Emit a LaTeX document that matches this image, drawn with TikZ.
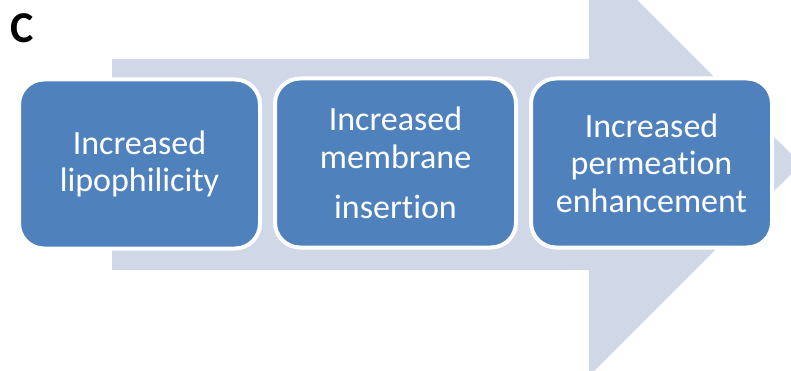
\documentclass[tikz,border=0pt]{standalone}
\usepackage{fontspec}
\setmainfont{Carlito}[Ligatures={NoCommon,NoRare}]
\definecolor{stepblue}{HTML}{4F81BD}
\definecolor{flowgray}{HTML}{D0D8E8}
% keep "t" and "i" as separate glyphs
\newcommand{\tisep}{\kern0pt }
\begin{document}
\begin{tikzpicture}[x=1pt,y=-1pt,
  stepbox/.style={draw=white, line width=4pt, fill=stepblue, rounded corners=25pt,
    minimum width=241pt, minimum height=169pt, inner sep=0pt, text=white,
    align=center, font=\fontsize{34}{37.5}\selectfont},
  panel/.style={font=\bfseries\fontsize{44}{48}\selectfont, anchor=base west, inner sep=0pt}]
  \useasboundingbox (0,0) rectangle (791,371);
  \clip (0,0) rectangle (791,371);
  % broad background arrow
  \fill[flowgray] (112,59) -- (589,59) -- (589,-48) -- (801,164) -- (589,376)
    -- (589,270) -- (112,270) -- cycle;
  % panel letter
  \node[panel] (lbl) at (10,43) {C};
  % the three steps
  \node[stepbox] (s1) at (139.5,164) {Increased\\lipophilicity};
  \node[stepbox] (s2) at (395.5,163) {Increased\\membrane\\[13pt]insert\tisep ion};
  \node[stepbox] (s3) at (651.5,163) {Increased\\permeat\tisep ion\\enhancement};
\end{tikzpicture}
\end{document}
